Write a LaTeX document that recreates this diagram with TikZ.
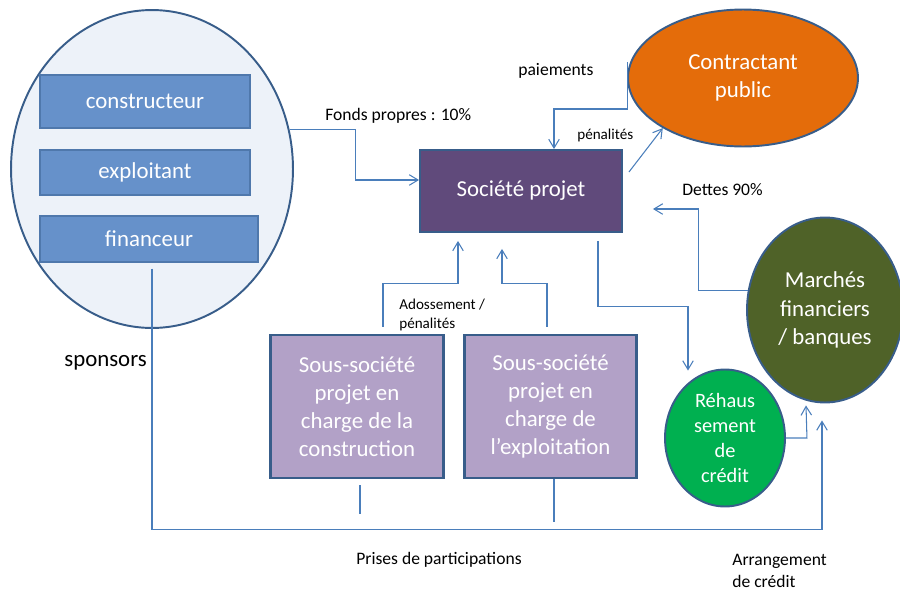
\documentclass[tikz,border=0pt]{standalone}
\usepackage{fontspec}
\setmainfont{Carlito}
\usetikzlibrary{arrows.meta,shapes.geometric}
\definecolor{lienbleu}{HTML}{4A7EBB}
\definecolor{bordbleu}{HTML}{385D8A}
\definecolor{fondspon}{HTML}{EDF2F9}
\definecolor{membrebleu}{HTML}{6691CA}
\definecolor{membrebord}{HTML}{4F78AC}
\definecolor{societe}{HTML}{604A7B}
\definecolor{sousste}{HTML}{B2A1C7}
\definecolor{orangecp}{HTML}{E46C0A}
\definecolor{vertmf}{HTML}{4F6228}
\definecolor{vertrh}{HTML}{00B050}

\begin{document}
\begin{tikzpicture}[x=0.02cm, y=-0.02cm,
    lien/.style={draw=lienbleu, line width=0.6pt},
    fleche/.style={lien, -{Straight Barb[length=5pt,width=6pt]}},
    gros/.style={font=\fontsize{13}{16}\selectfont, text=white, align=center, inner sep=0pt},
    membre/.style={gros, draw=membrebord, line width=0.6pt, fill=membrebleu, minimum width=4.2cm},
    bulle/.style={gros, ellipse, draw=bordbleu, line width=1.1pt},
    sousboite/.style={gros, draw=bordbleu, line width=1.6pt, fill=sousste, minimum width=3.45cm, minimum height=2.86cm},
    etiq/.style={font=\fontsize{10}{12}\selectfont, anchor=west, inner sep=0pt, align=left},
    petit/.style={font=\fontsize{8.6}{10.8}\selectfont, anchor=west, inner sep=0pt, align=left}]

  \useasboundingbox (0,0) rectangle (900,592);

  % sponsors
  \node [ellipse, draw=bordbleu, line width=1.1pt, fill=fondspon,
         minimum width=5.64cm, minimum height=6.36cm] (spon) at (152,169) {};
  \node [membre, minimum height=1.06cm] (constr) at (145,101.5) {constructeur};
  \node [membre, minimum height=0.9cm] (exploit) at (145,172.5) {exploitant};
  \node [membre, minimum height=0.92cm, minimum width=4.36cm] (financ) at (149,239) {financeur};
  \node [font=\fontsize{13}{16}\selectfont, anchor=west, inner sep=0pt] (sponsors) at (64,363) {sponsors};

  \node [gros, draw=bordbleu, line width=1.1pt, fill=societe,
         minimum width=4.04cm, minimum height=1.64cm] (soc) at (521,191) {Société projet};

  \node [bulle, fill=orangecp, minimum width=4.6cm, minimum height=2.74cm] (cp) at (743,78)
        {Contractant\\public};
  \node [bulle, fill=vertmf, minimum width=3.12cm, minimum height=3.7cm] (mf) at (825,310)
        {Marchés\\financiers\\/ banques};
  \node [bulle, fill=vertrh, minimum width=2.4cm, minimum height=2.74cm,
         font=\fontsize{11.6}{14.2}\selectfont] (rh) at (725,438)
        {Réhaus\\sement\\de\\crédit};

  \node [sousboite] (cons) at (357,406.5) {Sous-société\\projet en\\charge de la\\construction};
  \node [sousboite] (expl) at (550.5,406.5) {Sous-société\\projet en\\charge de\\l’exploitation};

  % flux
  \draw [fleche] (spon.16) -- ++(66,0) |- ([shift={(0,-11)}]soc.west);
  \node [etiq] (fonds) at (325,116) {Fonds propres : 10\%};

  \draw [fleche] ([shift={(0,-16)}]cp.west) -- ++(0,47) -| ([shift={(33,0)}]soc.north);
  \node [etiq] (paie) at (518,71) {paiements};
  \node [petit] (penal) at (577,135) {pénalités};

  \draw [fleche] ([shift={(6,-19)}]soc.east) -- (cp.212);

  \draw [fleche] (mf.166) -- ++(-49,0) |- ([shift={(30,18)}]soc.east);
  \node [etiq] (dettes) at (682,190) {Dettes 90\%};

  \draw [fleche] ([shift={(77,8)}]soc.south) -- ++(0,66) -| ([shift={(-37,2)}]rh.north);
  \draw [fleche] (rh.east) -- ++(21,0) -- ([shift={(-19,2)}]mf.south);

  \draw [fleche] ([shift={(26,-7)}]cons.north) -- ++(0,-43) -| ([shift={(-63,8)}]soc.south);
  \draw [fleche] ([shift={(-3.5,-7)}]expl.north) -- ++(0,-43) -| ([shift={(-19,16)}]soc.south);
  \node [petit] (adoss) at (399,315) {Adossement /\\pénalités};

  \draw [fleche] ([shift={(3,6)}]financ.south) -- ++(0,261) -| ([shift={(-3,17)}]mf.south);
  \draw [lien] ([shift={(3,6)}]cons.south) -- ++(0,29);
  \draw [lien] ([shift={(3.5,0)}]expl.south) -- ++(0,43);
  \node [etiq] (prises) at (356,560) {Prises de participations};
  \node [etiq, font=\fontsize{10}{12.2}\selectfont] (arrang) at (732,571) {Arrangement\\de crédit};

\end{tikzpicture}
\end{document}
